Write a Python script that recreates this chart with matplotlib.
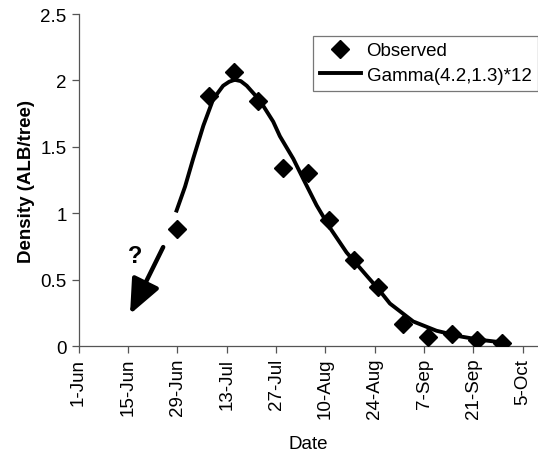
import datetime as dt
import matplotlib
matplotlib.use('Agg')
import matplotlib.pyplot as plt

plt.rcParams['font.family'] = ['Liberation Sans', 'DejaVu Sans']

base = dt.datetime(2000, 6, 1)

# observed densities, days after 1-Jun
obs_day = [28, 37, 44, 51, 58, 65, 71, 78, 85, 92, 99, 106, 113, 120]
obs_val = [0.88, 1.885, 2.065, 1.847, 1.338, 1.30, 0.95, 0.648, 0.447,
           0.166, 0.065, 0.09, 0.045, 0.02]

# fitted curve
fit_day = [27.8, 30.2, 32.5, 35.4, 38.2, 41.0, 42.7, 44.3, 46.0, 47.7, 51.4,
           55.2, 57.1, 60.9, 63.7, 67.5, 71.3, 76.0, 81.7, 85.0, 88.3, 94.9,
           101.5, 108.1, 113.8, 121.4]
fit_val = [1.02, 1.20, 1.41, 1.66, 1.86, 1.96, 1.99, 2.005, 1.995, 1.96, 1.85,
           1.69, 1.58, 1.41, 1.26, 1.06, 0.89, 0.705, 0.53, 0.43, 0.32, 0.185,
           0.115, 0.073, 0.047, 0.023]

tick_labels = ['1-Jun', '15-Jun', '29-Jun', '13-Jul', '27-Jul', '10-Aug',
               '24-Aug', '7-Sep', '21-Sep', '5-Oct']
y_ticks = [0, 0.5, 1, 1.5, 2, 2.5]
y_labels = ['0', '0.5', '1', '1.5', '2', '2.5']

def to_date(d):
    return base + dt.timedelta(days=d)

fig = plt.figure(figsize=(5.38, 4.56), dpi=100)
ax = fig.add_axes([0.146, 0.239, 0.854, 0.728])

ax.plot([to_date(d) for d in obs_day], obs_val, 'D', color='black',
        markersize=9, label='Observed', zorder=3)
ax.plot([to_date(d) for d in fit_day], fit_val, '-', color='black',
        linewidth=2.8, label='Gamma(4.2,1.3)*12', zorder=2)

# arrow with question mark
ax.annotate('', xy=(to_date(14.6), 0.24), xytext=(to_date(24.0), 0.745),
            arrowprops=dict(arrowstyle='-|>,head_length=1.4,head_width=0.6',
                            mutation_scale=15, lw=3.2, color='black',
                            shrinkA=0, shrinkB=0))
ax.text(to_date(16.0), 0.68, '?', fontsize=17, fontweight='bold',
        ha='center', va='center')

ticks = [to_date(14 * i) for i in range(len(tick_labels))]
ax.set_xticks(ticks)
ax.set_xticklabels(tick_labels, rotation=90)
ax.set_xlim(to_date(0), to_date(130.3))
ax.set_ylim(0, 2.5)
ax.set_yticks(y_ticks)
ax.set_yticklabels(y_labels)

for s in ['top', 'right']:
    ax.spines[s].set_visible(False)
for s in ['left', 'bottom']:
    ax.spines[s].set_color('#555555')
    ax.spines[s].set_linewidth(0.9)
ax.tick_params(direction='out', length=5, width=0.9, color='#555555',
               labelsize=13.5)

ax.set_xlabel('Date', fontsize=13.5, labelpad=12)
ax.set_ylabel('Density (ALB/tree)', fontsize=13.5, fontweight='bold')

leg = ax.legend(loc='upper right', bbox_to_anchor=(1.0, 0.935), fontsize=13.5,
                frameon=True, fancybox=False, edgecolor='#555555',
                borderpad=0.35, handlelength=2.2, handletextpad=0.3,
                labelspacing=0.4, borderaxespad=0.0)
leg.get_frame().set_linewidth(0.9)

fig.savefig('out.png', dpi=100)
